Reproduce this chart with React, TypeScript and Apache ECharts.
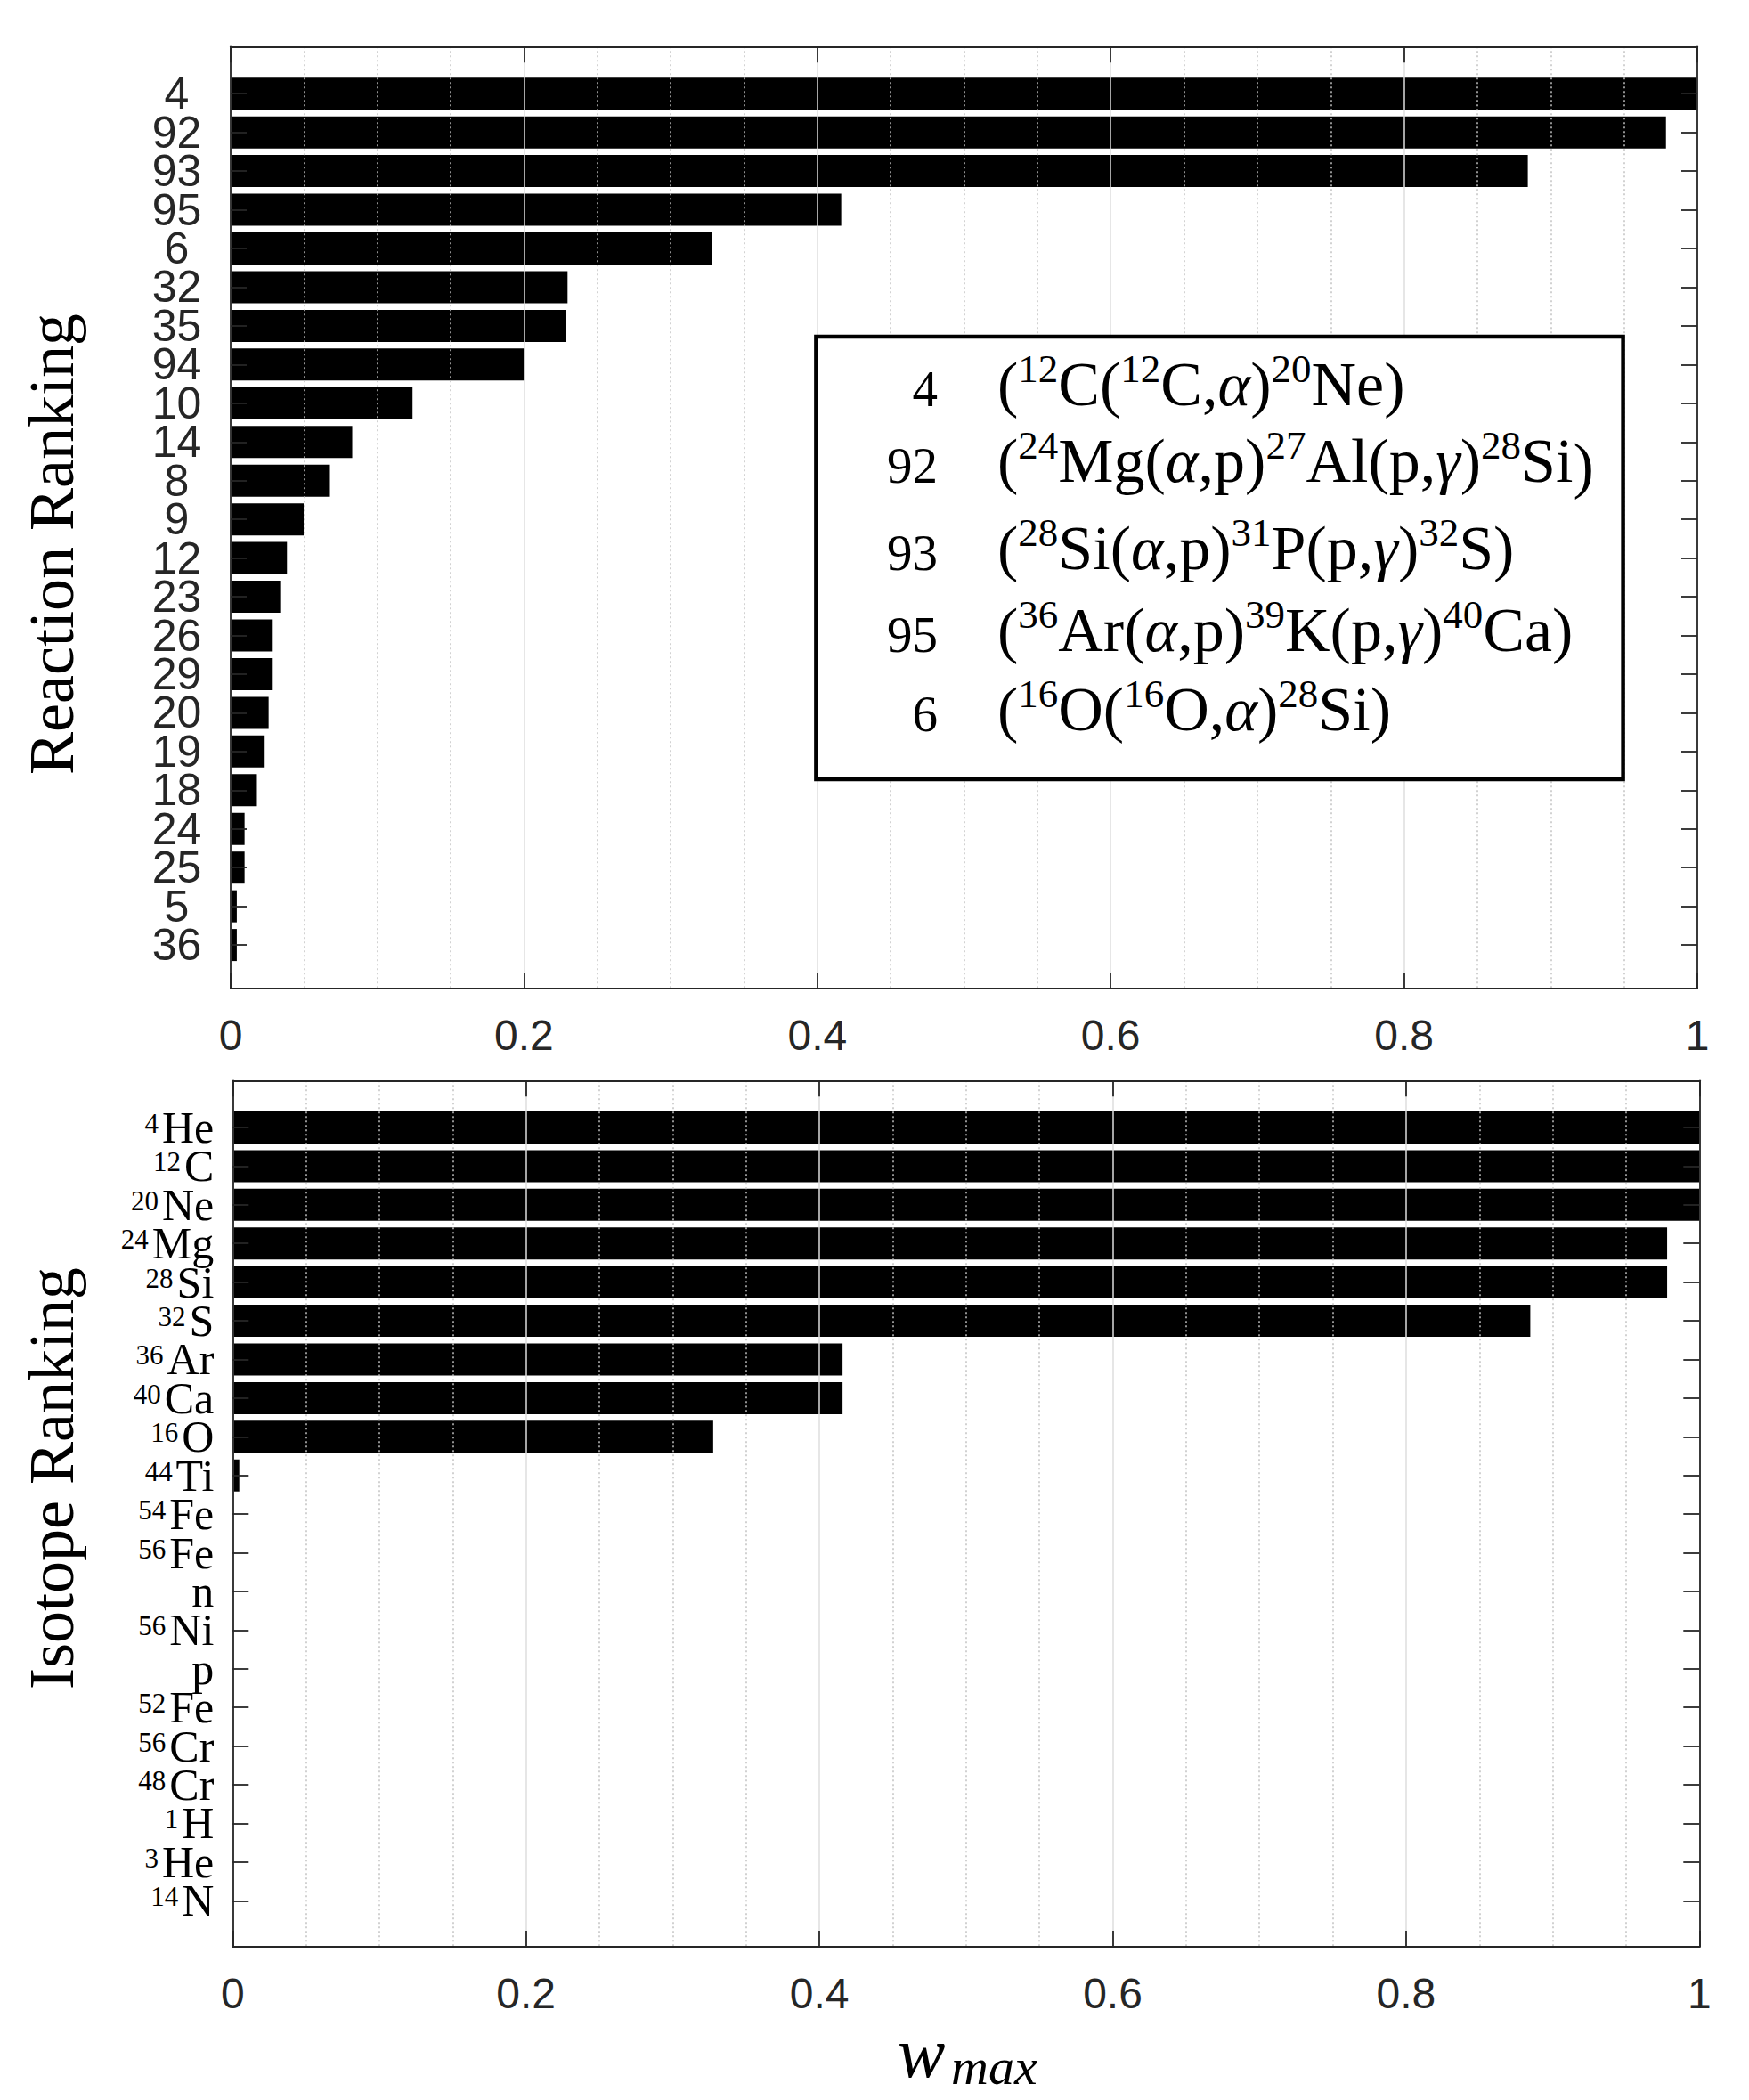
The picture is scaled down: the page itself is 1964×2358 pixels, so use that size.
import React, { useEffect, useRef } from 'react';
import * as echarts from 'echarts';

// ---------------- data ----------------
const reactionIds = ['4', '92', '93', '95', '6', '32', '35', '94', '10', '14', '8', '9', '12', '23', '26', '29', '20', '19', '18', '24', '25', '5', '36'];
const reactionWmax = [1.0, 0.9786, 0.8844, 0.4163, 0.328, 0.2297, 0.2289, 0.2, 0.124, 0.0829, 0.0677, 0.0498, 0.0384, 0.0338, 0.0281, 0.0281, 0.0259, 0.0232, 0.0179, 0.0095, 0.0095, 0.0042, 0.0042];

const isotopeMass = ['4', '12', '20', '24', '28', '32', '36', '40', '16', '44', '54', '56', '', '56', '', '52', '56', '48', '1', '3', '14'];
const isotopeElement = ['He', 'C', 'Ne', 'Mg', 'Si', 'S', 'Ar', 'Ca', 'O', 'Ti', 'Fe', 'Fe', 'n', 'Ni', 'p', 'Fe', 'Cr', 'Cr', 'H', 'He', 'N'];
const isotopeWmax = [1, 1, 1, 0.978, 0.978, 0.8847, 0.4158, 0.4158, 0.3276, 0.0045, 0, 0, 0, 0, 0, 0, 0, 0, 0, 0, 0];

const legendIds = ['4', '92', '93', '95', '6'];
const legendReactions = [
  '{p|(}{s|12}{p|C(}{s|12}{p|C,}{g|α}{p|)}{s|20}{p|Ne)}',
  '{p|(}{s|24}{p|Mg(}{g|α}{p|,p)}{s|27}{p|Al(p,}{g|γ}{p|)}{s|28}{p|Si}{d|)}',
  '{p|(}{s|28}{p|Si(}{g|α}{p|,p)}{s|31}{p|P(p,}{g|γ}{p|)}{s|32}{p|S)}',
  '{p|(}{s|36}{p|Ar(}{g|α}{p|,p)}{s|39}{p|K(p,}{g|γ}{p|)}{s|40}{p|Ca)}',
  '{p|(}{s|16}{p|O(}{s|16}{p|O,}{g|α}{p|)}{s|28}{p|Si)}',
];
const legendBaselines = [455, 541, 639, 731, 820];

const xMin = 0;
const xMax = 1;
const xInterval = 0.2;

// ---------------- styles ----------------
const AX = '#262626';
const SANS = 'Liberation Sans, Arial, sans-serif';
const SERIF = 'Liberation Serif, Times New Roman, serif';

const frameX = (gridIndex: number, position: 'top' | 'bottom', labels: boolean, splits: boolean) => ({
  type: 'value',
  gridIndex,
  position,
  min: xMin,
  max: xMax,
  interval: xInterval,
  z: 10,
  axisLine: { show: true, onZero: false, lineStyle: { color: AX, width: 1.8 } },
  axisTick: { show: true, inside: true, length: 18, lineStyle: { color: AX, width: 1.8 } },
  axisLabel: {
    show: labels,
    margin: 28,
    fontSize: 48,
    lineHeight: 48,
    fontFamily: SANS,
    color: AX,
    formatter: (v: number) => String(Math.round(v * 10) / 10),
  },
  splitLine: { show: splits, lineStyle: { color: '#dedede', width: 1.5, type: 'solid' } },
  minorTick: { show: false, splitNumber: 4 },
  minorSplitLine: { show: splits, lineStyle: { color: '#c2c2c2', width: 1.5, type: [2, 3] } },
});

const hiddenX = (gridIndex: number) => ({
  type: 'value',
  gridIndex,
  min: xMin,
  max: xMax,
  show: false,
});

const frameY = (gridIndex: number, position: 'left' | 'right') => ({
  type: 'value',
  gridIndex,
  position,
  min: 0,
  max: 1,
  z: 10,
  axisLine: { show: true, onZero: false, lineStyle: { color: AX, width: 1.8 } },
  axisTick: { show: false },
  axisLabel: { show: false },
  splitLine: { show: false },
});

const catY = (gridIndex: number, position: 'left' | 'right', data: string[], label: any) => ({
  type: 'category',
  gridIndex,
  position,
  data,
  inverse: true,
  boundaryGap: false,
  z: 10,
  axisLine: { show: false },
  axisTick: { show: true, inside: true, length: 18, interval: 0, lineStyle: { color: AX, width: 1.8 } },
  axisLabel: label,
  splitLine: { show: false },
});

const isotopeCats = isotopeElement.map((el, i) => isotopeMass[i] + el);

export default function App() {
  const ref = useRef<HTMLDivElement>(null);

  useEffect(() => {
    if (!ref.current) return;
    const chart = echarts.init(ref.current, null, { renderer: 'svg' });

    const legendGraphics: any[] = [
      {
        type: 'rect',
        z: 100,
        shape: { x: 916.4, y: 378, width: 906.2, height: 497 },
        style: { fill: '#ffffff', stroke: '#000000', lineWidth: 4.5 },
      },
    ];
    legendIds.forEach((id, i) => {
      legendGraphics.push({
        type: 'text',
        z: 101,
        x: 1053,
        y: legendBaselines[i] - 19,
        style: {
          text: id,
          fontSize: 57,
          fontFamily: SERIF,
          fill: '#000',
          align: 'right',
          verticalAlign: 'middle',
        },
      });
      legendGraphics.push({
        type: 'text',
        z: 101,
        x: 1120,
        y: legendBaselines[i] - 64,
        style: {
          text: legendReactions[i],
          fontFamily: SERIF,
          fill: '#000',
          align: 'left',
          verticalAlign: 'top',
          rich: {
            p: { fontSize: 70, lineHeight: 80, fontFamily: SERIF, fill: '#000', verticalAlign: 'middle' },
            g: { fontSize: 70, lineHeight: 80, fontFamily: SERIF, fontStyle: 'italic', fill: '#000', verticalAlign: 'middle' },
            s: { fontSize: 45, lineHeight: 40, fontFamily: SERIF, fill: '#000', verticalAlign: 'top' },
            d: { fontSize: 70, lineHeight: 40, fontFamily: SERIF, fill: '#000', verticalAlign: 'bottom' },
          },
        },
      });
    });

    const option: any = {
      animation: false,
      backgroundColor: '#ffffff',
      grid: [
        { left: 259, top: 52.3, width: 1647, height: 1057.7 },
        { left: 259, top: 105.2, width: 1647, height: 955.9 },
        { left: 261.3, top: 1213.3, width: 1647, height: 972.7 },
        { left: 261.3, top: 1266, width: 1647, height: 868.3 },
      ],
      xAxis: [
        frameX(0, 'bottom', true, true),
        frameX(0, 'top', false, false),
        hiddenX(1),
        frameX(2, 'bottom', true, true),
        frameX(2, 'top', false, false),
        hiddenX(3),
      ],
      yAxis: [
        frameY(0, 'left'),
        frameY(0, 'right'),
        catY(1, 'left', reactionIds, {
          show: true,
          interval: 0,
          align: 'center',
          margin: 60.5,
          fontSize: 50,
          lineHeight: 40,
          fontFamily: SANS,
          color: AX,
        }),
        catY(1, 'right', reactionIds, { show: false }),
        frameY(2, 'left'),
        frameY(2, 'right'),
        catY(3, 'left', isotopeCats, {
          show: true,
          interval: 0,
          align: 'right',
          margin: 21,
          formatter: (_v: string, i: number) =>
            isotopeMass[i] ? `{s|${isotopeMass[i]}}{b|${isotopeElement[i]}}` : `{b|${isotopeElement[i]}}`,
          rich: {
            s: { fontSize: 31, lineHeight: 22, fontFamily: SERIF, color: '#000', verticalAlign: 'top', padding: [0, 4, 0, 0] },
            b: { fontSize: 50, lineHeight: 40, fontFamily: SERIF, color: '#000', verticalAlign: 'middle' },
          },
        }),
        catY(3, 'right', isotopeCats, { show: false }),
      ],
      series: [
        {
          type: 'bar',
          name: 'Reaction',
          xAxisIndex: 2,
          yAxisIndex: 2,
          data: reactionWmax,
          barWidth: 36,
          clip: false,
          z: 2,
          itemStyle: { color: '#000000', borderWidth: 0 },
        },
        {
          type: 'bar',
          name: 'Isotope',
          xAxisIndex: 5,
          yAxisIndex: 6,
          data: isotopeWmax,
          barWidth: 36,
          clip: false,
          z: 2,
          itemStyle: { color: '#000000', borderWidth: 0 },
        },
      ],
      graphic: [
        ...legendGraphics,
        {
          type: 'text',
          x: 58,
          y: 611,
          rotation: Math.PI / 2,
          style: {
            text: 'Reaction Ranking',
            fontSize: 72,
            fontFamily: SERIF,
            fill: '#000',
            align: 'center',
            verticalAlign: 'middle',
          },
        },
        {
          type: 'text',
          x: 58,
          y: 1660,
          rotation: Math.PI / 2,
          style: {
            text: 'Isotope Ranking',
            fontSize: 72,
            fontFamily: SERIF,
            fill: '#000',
            align: 'center',
            verticalAlign: 'middle',
          },
        },
        {
          type: 'text',
          x: 1008,
          y: 2305,
          style: {
            text: 'w',
            fontSize: 80,
            fontFamily: SERIF,
            fontStyle: 'italic',
            fill: '#000',
            align: 'left',
            verticalAlign: 'middle',
          },
        },
        {
          type: 'text',
          x: 1068,
          y: 2320,
          style: {
            text: 'max',
            fontSize: 58,
            fontFamily: SERIF,
            fontStyle: 'italic',
            fill: '#000',
            align: 'left',
            verticalAlign: 'middle',
          },
        },
      ],
    };

    chart.setOption(option);
    return () => {
      chart.dispose();
    };
  }, []);

  return (
    <div
      ref={ref}
      style={{ position: 'absolute', left: 0, top: 0, width: 1964, height: 2358, background: '#fff' }}
    />
  );
}
